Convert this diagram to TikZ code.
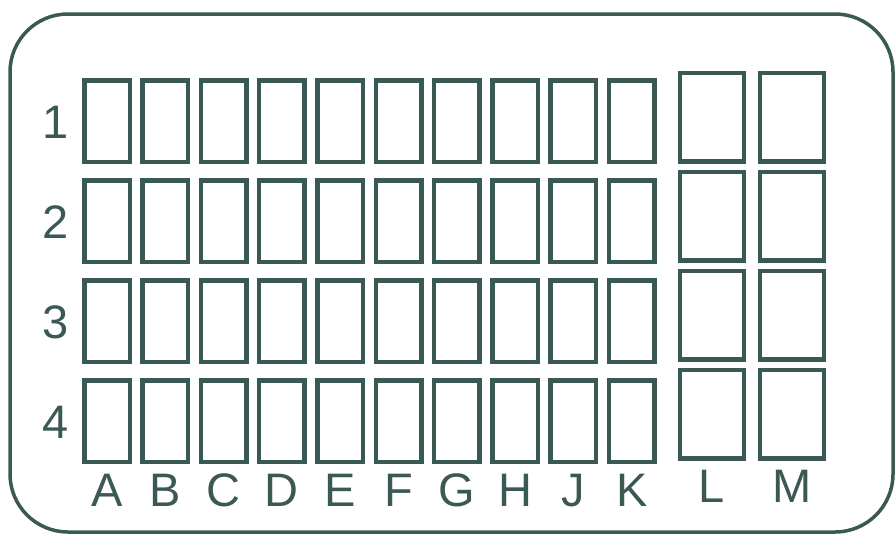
\documentclass[tikz,border=0pt]{standalone}
\usepackage{fontspec}
\setmainfont{Liberation Sans}
\usetikzlibrary{positioning}
\definecolor{slate}{RGB}{58,88,84}
\tikzset{
  cell/.style     = {draw=slate, line width=4.5pt, minimum width=45.5pt,
                     minimum height=81.5pt, inner sep=0pt},
  widecell/.style = {cell, minimum width=64pt, minimum height=88.5pt},
  lbl/.style      = {text=slate, font=\fontsize{47}{47}\selectfont, inner sep=0pt,
                     text height=34pt, text depth=0pt},
  frame/.style    = {draw=slate, line width=3.5pt, rounded corners=58pt},
}

\begin{document}
\begin{tikzpicture}[x=1pt, y=-1pt]
  \useasboundingbox (0,0) rectangle (896,536);
  \draw[frame] (10,14) rectangle (893,532);

  % narrow columns, no I
  \foreach \c [count=\i from 0] in {A,B,C,D,E,F,G,H,J,K} {
    \foreach \r in {1,...,4}
      \node[cell] (cell-\c\r) at ({107+58.3*\i},{21+100*\r}) {};
    \node[lbl, below=8pt of cell-\c4] (col-\c) {\c};
  }
  % wide columns
  \foreach \c [count=\i from 0] in {L,M} {
    \foreach \r in {1,...,4}
      \node[widecell] (cell-\c\r) at ({712+80*\i},{18+99*\r}) {};
    \node[lbl, below=8pt of cell-\c4] (col-\c) {\c};
  }

  \foreach \r in {1,...,4}
    \node[lbl, left=13pt of cell-A\r] (row-\r) {\r};
\end{tikzpicture}
\end{document}
